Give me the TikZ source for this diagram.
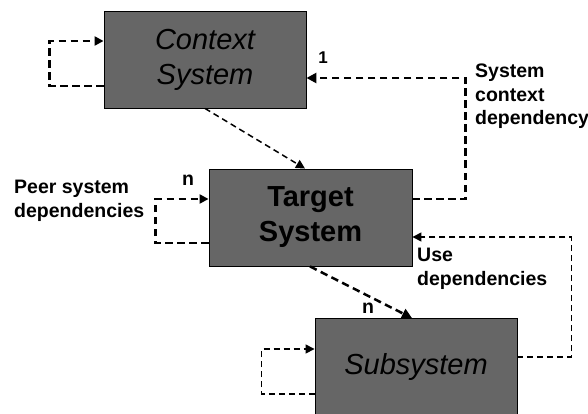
\documentclass[tikz,border=0pt]{standalone}
\usepackage{fontspec}
\setmainfont{Liberation Sans}
\usetikzlibrary{arrows.meta}
\definecolor{boxgray}{HTML}{666666}
\begin{document}
\begin{tikzpicture}[x=1pt,y=-1pt,
  sysbox/.style={draw=black,line width=0.9pt,fill=boxgray,minimum width=202pt,
    minimum height=97pt,inner sep=0pt,align=center,
    font=\fontsize{29}{35}\selectfont},
  lbl/.style={inner sep=0pt,align=left,font=\bfseries\fontsize{19.5}{23.5}\selectfont},
  heavydash/.style={line width=2.5pt,dash pattern=on 7.5pt off 4.5pt},
  lightdash/.style={line width=1.5pt,dash pattern=on 6pt off 4pt},
  tip/.style={-{Triangle[length=10pt,width=10pt]}},
  stip/.style={-{Triangle[length=9pt,width=9pt]}}]
\useasboundingbox (0,0) rectangle (588,414);
\clip (0,0) rectangle (588,414);

% the three systems
\node[sysbox] (ctx) at (205,59.5) {\itshape Context\\\itshape System};
\node[sysbox,minimum width=203pt] (tgt) at (310.5,217.5) {\bfseries Target\\\bfseries System};
\node[sysbox] (sub) at (416,367) {\itshape Subsystem};

% self dependencies
\draw[heavydash,stip] ([yshift=-26.5pt]ctx.west) -- ++(-54pt,0) |- ([yshift=18.5pt]ctx.west);
\draw[heavydash,stip] ([yshift=-25.5pt]tgt.west) -- ++(-53pt,0) |- ([yshift=18.5pt]tgt.west);
\draw[lightdash,stip] ([yshift=-27pt]sub.west) -- ++(-53pt,0) |- ([yshift=18pt]sub.west);

% dependencies between systems
\draw[lightdash,stip] (ctx.south) -- ([xshift=-5.5pt]tgt.north);
\draw[heavydash,tip] ([yshift=18.5pt]tgt.east) -- ++(53pt,0) |- ([yshift=-18.5pt]ctx.east);
\draw[heavydash,tip] ([xshift=-0.5pt]tgt.south) -- ([xshift=-4pt]sub.north);
\draw[lightdash,stip] ([yshift=10pt]sub.east) -- ++(54pt,0) |- ([yshift=-19.5pt]tgt.east);

% labels
\node[inner sep=0pt,font=\bfseries\fontsize{17}{19}\selectfont] (one) at (323,58) {1};
\node[lbl] (nPeer) at (188,180) {n};
\node[lbl] (nUse) at (368,308) {n};
\node[lbl,anchor=base west] (scd) at (475,125) {System\\context\\dependency};
\node[lbl,anchor=base west] (peer) at (14,217) {Peer system\\dependencies};
\node[lbl,anchor=base west] (use) at (417,285) {Use\\dependencies};
\end{tikzpicture}
\end{document}
